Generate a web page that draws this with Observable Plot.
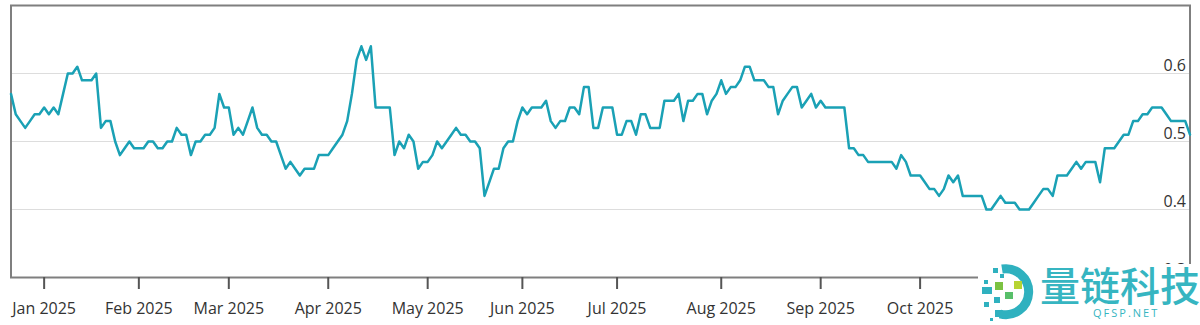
<!DOCTYPE html>
<html>
<head>
<meta charset="utf-8">
<script src="https://cdn.jsdelivr.net/npm/d3@7"></script>
<script src="https://cdn.jsdelivr.net/npm/@observablehq/plot@0.6"></script>
<style>
html, body { margin: 0; padding: 0; background: #fff; }
#wrap { position: relative; width: 1200px; height: 325px; overflow: hidden; }
#wm { position: absolute; left: 978px; top: 264px; width: 222px; height: 61px; background: #fff; }
#wm .cn { position: absolute; left: 62px; top: 0px; font: 500 40px/40px "Noto Sans CJK SC", sans-serif; color: #36b5c1; white-space: nowrap; }
#wm .en { position: absolute; left: 115px; top: 43px; font: 400 11px/11px "Open Sans", sans-serif; letter-spacing: 2px; color: #36b5c1; white-space: nowrap; }
</style>
</head>
<body>
<div id="wrap">
  <div id="chart"></div>
  <div id="wm">
    <svg width="60" height="61" style="position:absolute;left:0;top:0">
      <path d="M 24 5 A 23 23 0 1 1 22 50" fill="none" stroke="#2fb1bf" stroke-width="9"/>
      <rect x="15" y="4" width="5" height="5" fill="#2fb1bf"/>
      <rect x="22" y="10" width="4" height="4" fill="#2fb1bf"/>
      <rect x="6" y="16" width="4" height="4" fill="#2fb1bf"/>
      <rect x="17" y="18" width="8" height="8" fill="#7cc242"/>
      <rect x="36" y="17" width="8" height="8" fill="#b7d433"/>
      <rect x="4" y="23" width="10" height="7" fill="#2fb1bf"/>
      <rect x="27" y="28" width="8" height="7" fill="#58bf6a"/>
      <rect x="16" y="33" width="6" height="6" fill="#2fb1bf"/>
      <rect x="6" y="38" width="5" height="5" fill="#2fb1bf"/>
      <rect x="17" y="46" width="7" height="7" fill="#2fb1bf"/>
      <rect x="12" y="54" width="3" height="3" fill="#2fb1bf"/>
    </svg>
    <div class="cn">量链科技</div>
    <div class="en">QFSP.NET</div>
  </div>
</div>
<script>
const dates = [
  "2024-12-20","2024-12-23","2024-12-24","2024-12-26","2024-12-27","2024-12-30","2024-12-31",
  "2025-01-02","2025-01-03","2025-01-06","2025-01-07","2025-01-08","2025-01-10","2025-01-13","2025-01-14","2025-01-15","2025-01-16","2025-01-17","2025-01-21","2025-01-22","2025-01-23","2025-01-24","2025-01-27","2025-01-28","2025-01-29","2025-01-30","2025-01-31",
  "2025-02-03","2025-02-04","2025-02-05","2025-02-06","2025-02-07","2025-02-10","2025-02-11","2025-02-12","2025-02-13","2025-02-14","2025-02-18","2025-02-19","2025-02-20","2025-02-21","2025-02-24","2025-02-25","2025-02-26","2025-02-27","2025-02-28",
  "2025-03-03","2025-03-04","2025-03-05","2025-03-06","2025-03-07","2025-03-10","2025-03-11","2025-03-12","2025-03-13","2025-03-14","2025-03-17","2025-03-18","2025-03-19","2025-03-20","2025-03-21","2025-03-24","2025-03-25","2025-03-26","2025-03-27","2025-03-28","2025-03-31",
  "2025-04-01","2025-04-02","2025-04-03","2025-04-04","2025-04-07","2025-04-08","2025-04-09","2025-04-10","2025-04-11","2025-04-14","2025-04-15","2025-04-16","2025-04-17","2025-04-21","2025-04-22","2025-04-23","2025-04-24","2025-04-25","2025-04-28","2025-04-29","2025-04-30",
  "2025-05-01","2025-05-02","2025-05-05","2025-05-06","2025-05-07","2025-05-08","2025-05-09","2025-05-12","2025-05-13","2025-05-14","2025-05-15","2025-05-16","2025-05-19","2025-05-20","2025-05-21","2025-05-22","2025-05-23","2025-05-27","2025-05-28","2025-05-29",
  "2025-06-02","2025-06-03","2025-06-04","2025-06-05","2025-06-06","2025-06-09","2025-06-10","2025-06-11","2025-06-12","2025-06-13","2025-06-16","2025-06-17","2025-06-18","2025-06-20","2025-06-23","2025-06-24","2025-06-25","2025-06-26","2025-06-27","2025-06-30",
  "2025-07-01","2025-07-02","2025-07-03","2025-07-07","2025-07-08","2025-07-09","2025-07-10","2025-07-11","2025-07-14","2025-07-15","2025-07-16","2025-07-17","2025-07-18","2025-07-21","2025-07-22","2025-07-23","2025-07-24","2025-07-25","2025-07-28","2025-07-29","2025-07-30","2025-07-31",
  "2025-08-01","2025-08-04","2025-08-05","2025-08-06","2025-08-07","2025-08-08","2025-08-11","2025-08-12","2025-08-13","2025-08-14","2025-08-15","2025-08-18","2025-08-19","2025-08-20","2025-08-21","2025-08-22","2025-08-25","2025-08-26","2025-08-27","2025-08-28","2025-08-29",
  "2025-09-02","2025-09-03","2025-09-04","2025-09-05","2025-09-08","2025-09-09","2025-09-10","2025-09-11","2025-09-12","2025-09-15","2025-09-16","2025-09-17","2025-09-18","2025-09-19","2025-09-22","2025-09-23","2025-09-24","2025-09-25","2025-09-26","2025-09-29","2025-09-30",
  "2025-10-01","2025-10-02","2025-10-03","2025-10-06","2025-10-07","2025-10-08","2025-10-09","2025-10-10","2025-10-13","2025-10-14","2025-10-15","2025-10-16","2025-10-17","2025-10-20","2025-10-21","2025-10-22","2025-10-23","2025-10-24","2025-10-27","2025-10-28","2025-10-29","2025-10-30","2025-10-31",
  "2025-11-03","2025-11-04","2025-11-05","2025-11-06","2025-11-07","2025-11-10","2025-11-11","2025-11-12","2025-11-13","2025-11-14","2025-11-17","2025-11-18","2025-11-19","2025-11-20","2025-11-21","2025-11-24","2025-11-25","2025-11-26","2025-11-28",
  "2025-12-01","2025-12-02","2025-12-03","2025-12-04","2025-12-05","2025-12-08","2025-12-09","2025-12-10","2025-12-11","2025-12-12","2025-12-15","2025-12-16","2025-12-17","2025-12-18","2025-12-19","2025-12-22"
];

const values = [
  0.57,0.54,0.53,0.52,0.53,0.54,0.54,0.55,0.54,0.55,
  0.54,0.57,0.60,0.60,0.61,0.59,0.59,0.59,0.60,0.52,
  0.53,0.53,0.50,0.48,0.49,0.50,0.49,0.49,0.49,0.50,
  0.50,0.49,0.49,0.50,0.50,0.52,0.51,0.51,0.48,0.50,
  0.50,0.51,0.51,0.52,0.57,0.55,0.55,0.51,0.52,0.51,
  0.53,0.55,0.52,0.51,0.51,0.50,0.50,0.48,0.46,0.47,
  0.46,0.45,0.46,0.46,0.46,0.48,0.48,0.48,0.49,0.50,
  0.51,0.53,0.57,0.62,0.64,0.62,0.64,0.55,0.55,0.55,
  0.55,0.48,0.50,0.49,0.51,0.50,0.46,0.47,0.47,0.48,
  0.50,0.49,0.50,0.51,0.52,0.51,0.51,0.50,0.50,0.49,
  0.42,0.44,0.46,0.46,0.49,0.50,0.50,0.53,0.55,0.54,
  0.55,0.55,0.55,0.56,0.53,0.52,0.53,0.53,0.55,0.55,
  0.54,0.58,0.58,0.52,0.52,0.55,0.55,0.55,0.51,0.51,
  0.53,0.53,0.51,0.54,0.54,0.52,0.52,0.52,0.56,0.56,
  0.56,0.57,0.53,0.56,0.56,0.57,0.57,0.54,0.56,0.57,
  0.59,0.57,0.58,0.58,0.59,0.61,0.61,0.59,0.59,0.59,
  0.58,0.58,0.54,0.56,0.57,0.58,0.58,0.55,0.56,0.57,
  0.55,0.56,0.55,0.55,0.55,0.55,0.55,0.49,0.49,0.48,
  0.48,0.47,0.47,0.47,0.47,0.47,0.47,0.46,0.48,0.47,
  0.45,0.45,0.45,0.44,0.43,0.43,0.42,0.43,0.45,0.44,
  0.45,0.42,0.42,0.42,0.42,0.42,0.40,0.40,0.41,0.42,
  0.41,0.41,0.41,0.40,0.40,0.40,0.41,0.42,0.43,0.43,
  0.42,0.45,0.45,0.45,0.46,0.47,0.46,0.47,0.47,0.47,
  0.44,0.49,0.49,0.49,0.50,0.51,0.51,0.53,0.53,0.54,
  0.54,0.55,0.55,0.55,0.54,0.53,0.53,0.53,0.53,0.51
];

const monthTicks = ["2025-01-02","2025-02-03","2025-03-03","2025-04-01","2025-05-01","2025-06-02","2025-07-01","2025-08-01","2025-09-02","2025-10-01"];
const monthLabels = ["Jan 2025","Feb 2025","Mar 2025","Apr 2025","May 2025","Jun 2025","Jul 2025","Aug 2025","Sep 2025","Oct 2025"];
const yTicks = [0.3, 0.4, 0.5, 0.6];
const gridTicks = [0.4, 0.5, 0.6];

const data = dates.map((d, i) => ({date: d, value: values[i]}));
const labelOf = new Map(monthTicks.map((d, i) => [d, monthLabels[i]]));

const chart = Plot.plot({
  width: 1200,
  height: 325,
  marginLeft: 10.5,
  marginRight: 10.5,
  marginTop: 5,
  marginBottom: 48,
  style: {fontFamily: "'Open Sans', sans-serif", fontSize: "16px", color: "#333", background: "#fff"},
  x: {type: "point", domain: dates, padding: 0, axis: null, label: null},
  y: {domain: [0.3, 0.7], axis: null, label: null},
  marks: [
    Plot.gridY(gridTicks, {stroke: "#dddddd", strokeOpacity: 1, strokeWidth: 1}),
    Plot.frame({stroke: "#7f7f7f", strokeWidth: 2}),
    Plot.axisX(monthTicks, {tickSize: 12, tickPadding: 13.5, tickFormat: d => labelOf.get(d), stroke: "#555", strokeWidth: 2, fontSize: 16, fill: "#333", label: null}),
    Plot.text(yTicks, {y: d => d, frameAnchor: "right", textAnchor: "end", dx: -4, dy: -8, text: d => d.toFixed(1), fontSize: 16, fill: "#333"}),
    Plot.line(data, {x: "date", y: "value", stroke: "#1aa1b5", strokeWidth: 2.5})
  ]
});
document.getElementById("chart").appendChild(chart);
</script>
</body>
</html>
